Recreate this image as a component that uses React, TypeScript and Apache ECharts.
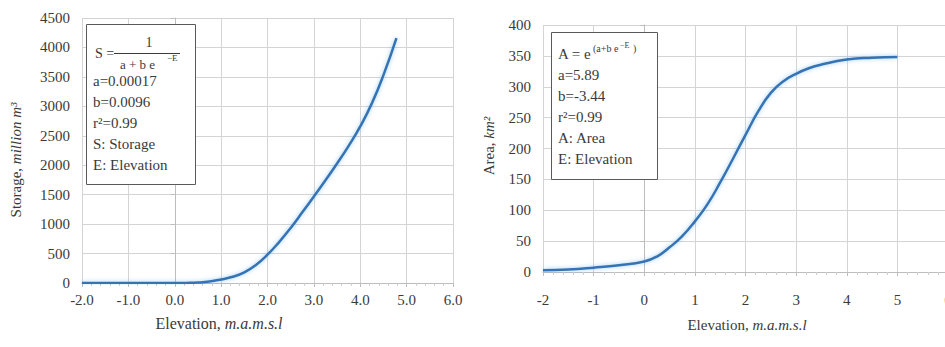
import React, { useEffect, useRef } from "react";
import * as echarts from "echarts";

// Left chart: Storage vs Elevation
const storageElevation = [-2.0, -1.5, -1.0, -0.5, 0.0, 0.25, 0.5, 0.75, 1.0, 1.25, 1.5, 1.75, 2.0, 2.25, 2.5, 2.75, 3.0, 3.25, 3.5, 3.75, 4.0, 4.25, 4.5, 4.78];
const storageValues = [0, 0, 0, 0, 0, 2, 8, 25, 60, 105, 180, 305, 480, 695, 935, 1200, 1470, 1745, 2030, 2330, 2660, 3050, 3530, 4160];

// Right chart: Area vs Elevation
const areaElevation = [-2, -1.5, -1, -0.5, 0, 0.25, 0.5, 0.75, 1.0, 1.25, 1.5, 1.75, 2.0, 2.25, 2.5, 2.75, 3.0, 3.25, 3.5, 4.0, 4.5, 5.0];
const areaValues = [3, 4, 7, 11, 17, 25, 40, 58, 82, 110, 145, 183, 222, 260, 290, 309, 321, 330, 336, 344, 347, 348];

const leftXTicks = [-2, -1, 0, 1, 2, 3, 4, 5, 6];
const leftBoxLines = ["a=0.00017", "b=0.0096", "r\u00b2=0.99", "S: Storage", "E: Elevation"];
const rightBoxLines = ["a=5.89", "b=-3.44", "r\u00b2=0.99", "A: Area", "E: Elevation"];

const FONT = "Liberation Serif";
const TEXT = "#3a3a3a";
const GRID = "#d4d4d4";
const LINE = "#3573b5";

export default function App() {
  const ref = useRef<HTMLDivElement>(null);
  useEffect(() => {
    document.body.style.margin = "0";
    const chart = echarts.init(ref.current!, null, { renderer: "svg" });
    const axisCommon = {
      axisLine: { show: true, lineStyle: { color: "#bdbdbd" } },
      axisTick: { show: true, length: 4, lineStyle: { color: "#bdbdbd" } },
      minorTick: { show: true, splitNumber: 5, length: 3, lineStyle: { color: "#cfcfcf" } },
      splitLine: { show: true, lineStyle: { color: GRID, width: 1 } },
      axisLabel: { color: TEXT, fontFamily: FONT, fontSize: 15 },
    };
    const txt = (x: number, y: number, text: string, size = 15, extra: any = {}) => ({
      type: "text",
      x,
      y,
      style: { text, fill: TEXT, fontFamily: FONT, fontSize: size, textVerticalAlign: "middle", ...extra },
      z: 20,
    });
    const richTitle = (x: number, y: number, a: string, b: string, size: number, rot = 0) => ({
      type: "text", x, y, rotation: rot, z: 20,
      style: {
        text: `{n|${a}}{i|${b}}`, textAlign: "center", textVerticalAlign: "middle",
        rich: {
          n: { fontFamily: FONT, fontSize: size, fill: TEXT },
          i: { fontFamily: FONT, fontSize: size, fontStyle: "italic", fill: TEXT },
        },
      },
    });
    const graphics: any[] = [
      { type: "rect", shape: { x: 86.5, y: 24.5, width: 109, height: 160 }, style: { fill: "#fff", stroke: "#5a5a5a", lineWidth: 1 }, z: 10 },
      txt(149, 42, "1", 14, { textAlign: "center" }),
      txt(95, 53, "S = ", 14),
      { type: "line", shape: { x1: 114, y1: 53.5, x2: 180, y2: 53.5 }, style: { stroke: TEXT, lineWidth: 1 }, z: 20 },
      txt(120, 64, "a + b e", 13),
      txt(167, 58, "\u2212E", 9),
      ...leftBoxLines.map((t, i) => txt(93, 81 + i * 21, t)),
      { type: "rect", shape: { x: 551.5, y: 32.5, width: 106, height: 147 }, style: { fill: "#fff", stroke: "#5a5a5a", lineWidth: 1 }, z: 10 },
      txt(558, 54, "A = e", 15),
      txt(593, 48, "(a+b e", 10),
      txt(620, 45, "\u2212E", 8),
      txt(633, 48, ")", 10),
      ...rightBoxLines.map((t, i) => txt(558, 75 + i * 21, t)),
      richTitle(219, 323, "Elevation, ", "m.a.m.s.l", 16),
      richTitle(747, 325, "Elevation, ", "m.a.m.s.l", 15),
      richTitle(16, 160, "Storage, ", "million m\u00b3", 15, Math.PI / 2),
      richTitle(489, 146, "Area, ", "km\u00b2", 15, Math.PI / 2),
    ];
    chart.setOption({
      animation: false,
      backgroundColor: "#fff",
      textStyle: { fontFamily: FONT },
      grid: [
        { left: 82, right: 960 - 453, top: 18, bottom: 347 - 283 },
        { left: 543, right: 960 - 948, top: 25, bottom: 347 - 272 },
      ],
      xAxis: [
        {
          ...axisCommon, type: "value", gridIndex: 0, min: leftXTicks[0], max: leftXTicks[leftXTicks.length - 1], interval: 1,
          axisLabel: { ...axisCommon.axisLabel, margin: 9, formatter: (v: number) => v.toFixed(1) },
        },
        {
          ...axisCommon, type: "value", gridIndex: 1, min: -2, max: 6, interval: 1,
          axisLabel: { ...axisCommon.axisLabel, margin: 20, formatter: (v: number) => String(v) },
        },
      ],
      yAxis: [
        {
          ...axisCommon, type: "value", gridIndex: 0, min: 0, max: 4500, interval: 500,
          minorTick: { show: false },
          axisLabel: { ...axisCommon.axisLabel, margin: 12, formatter: (v: number) => String(v) },
        },
        {
          ...axisCommon, type: "value", gridIndex: 1, min: 0, max: 400, interval: 50,
          minorTick: { show: false },
          axisLabel: { ...axisCommon.axisLabel, margin: 12, formatter: (v: number) => String(v) },
        },
      ],
      series: [
        {
          type: "line", xAxisIndex: 0, yAxisIndex: 0, smooth: 0.5, showSymbol: false,
          data: storageElevation.map((x, i) => [x, storageValues[i]]),
          lineStyle: { color: LINE, width: 2.5, shadowColor: "rgba(90,170,230,0.6)", shadowBlur: 4 },
        },
        {
          type: "line", xAxisIndex: 1, yAxisIndex: 1, smooth: 0.5, showSymbol: false,
          data: areaElevation.map((x, i) => [x, areaValues[i]]),
          lineStyle: { color: LINE, width: 2.5, shadowColor: "rgba(90,170,230,0.6)", shadowBlur: 4 },
        },
      ],
      graphic: graphics,
    });
    return () => chart.dispose();
  }, []);
  return (
    <div style={{ width: 945, height: 347, overflow: "hidden" }}>
      <div ref={ref} style={{ width: 960, height: 347 }} />
    </div>
  );
}
